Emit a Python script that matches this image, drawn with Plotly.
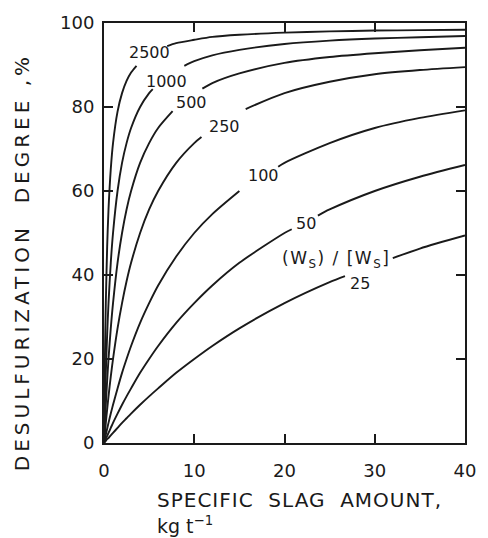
import numpy as np
import plotly.graph_objects as go

# slag amount, kg/t
x_vals = [0, 0.1, 0.2, 0.35, 0.5, 0.75, 1, 1.5, 2, 2.5, 3, 4, 5, 6, 8, 10, 12, 15, 20, 25, 30, 35, 40]

ratios = ["2500", "1000", "500", "250", "100", "50", "25"]

y_2500 = [0, 20.0, 33.3, 46.7, 55.6, 65.2, 71.4, 78.9, 83.3, 86.2, 88.2, 90.9, 92.6, 93.8, 95.2, 96.0, 96.7, 97.2, 97.7, 98.0, 98.2, 98.3, 98.4]
y_1000 = [0, 9.1, 16.7, 25.9, 33.3, 42.9, 50.0, 60.0, 66.7, 71.4, 75.0, 80.0, 83.3, 85.7, 88.9, 90.9, 92.3, 93.6, 95.0, 95.8, 96.3, 96.6, 96.9]
y_500 = [0, 4.8, 9.1, 14.9, 20.0, 27.3, 33.3, 42.9, 50.0, 55.6, 60.0, 66.7, 71.4, 75.0, 80.0, 83.3, 85.7, 88.0, 90.5, 91.9, 92.8, 93.5, 94.1]
y_250 = [0, 2.4, 4.8, 8.0, 11.1, 15.8, 20.0, 27.3, 33.3, 38.5, 42.9, 50.0, 55.6, 60.0, 66.7, 71.4, 75.0, 78.9, 83.3, 86.0, 87.8, 88.8, 89.5]
y_100 = [0, 1.0, 2.0, 3.4, 4.8, 7.0, 9.1, 13.0, 16.7, 20.0, 23.1, 28.6, 33.3, 37.5, 44.4, 50.0, 54.5, 60.0, 66.7, 71.4, 75.0, 77.4, 79.2]
y_50 = [0, 0.5, 1.0, 1.7, 2.4, 3.6, 4.8, 7.0, 9.1, 11.1, 13.0, 16.7, 20.0, 23.1, 28.6, 33.3, 37.5, 42.9, 50.0, 55.6, 60.0, 63.4, 66.2]
y_25 = [0, 0.25, 0.5, 0.9, 1.2, 1.8, 2.4, 3.6, 4.8, 5.9, 7.0, 9.1, 11.1, 13.0, 16.7, 20.0, 23.1, 27.3, 33.3, 38.3, 42.5, 46.3, 49.4]

series = [y_2500, y_1000, y_500, y_250, y_100, y_50, y_25]

# label placement (gap in each curve and label position, data coords)
gaps = [(3.6, 7.0), (5.4, 8.9), (7.6, 10.9), (10.8, 15.7), (15.0, 19.3), (20.8, 23.7), (26.7, 32.0)]
label_pos = [(5.05, 92.9), (6.9, 86.1), (9.7, 81.0), (13.3, 75.4), (17.7, 63.7), (22.4, 52.3), (28.4, 38.0)]
ratio_label = '<span style="letter-spacing:1.5px">(W<sub>S</sub>) / [W<sub>S</sub>]</span>'
ratio_label_pos = (25.7, 43.8)

x_title_1 = "SPECIFIC  SLAG  AMOUNT,"
x_title_2 = "kg t<sup>−1</sup>"
y_title = "DESULFURIZATION  DEGREE ,%"

FONT = "DejaVu Sans"
INK = "#1a1a1a"

fig = go.Figure()
xa = np.array(x_vals, dtype=float)
for ys, (g0, g1) in zip(series, gaps):
    ya = np.array(ys, dtype=float)
    m1 = xa < g0
    seg1x = np.append(xa[m1], g0)
    seg1y = np.append(ya[m1], np.interp(g0, xa, ya))
    m2 = xa > g1
    seg2x = np.insert(xa[m2], 0, g1)
    seg2y = np.insert(ya[m2], 0, np.interp(g1, xa, ya))
    for sx, sy in ((seg1x, seg1y), (seg2x, seg2y)):
        fig.add_trace(go.Scatter(x=sx, y=sy, mode="lines",
                                 line=dict(color=INK, width=1.9, shape="spline", smoothing=0.8),
                                 showlegend=False, hoverinfo="skip"))

for lab, (lx, ly) in zip(ratios, label_pos):
    fig.add_annotation(x=lx, y=ly, text=lab, showarrow=False,
                       font=dict(family=FONT, size=16, color=INK))
fig.add_annotation(x=ratio_label_pos[0], y=ratio_label_pos[1], text=ratio_label, showarrow=False,
                   font=dict(family=FONT, size=17, color=INK))

# axis titles
fig.add_annotation(xref="paper", yref="paper", x=0.14, y=-0.103, xanchor="left", yanchor="top",
                   showarrow=False,
                   text='<span style="letter-spacing:1px">' + x_title_1 + '</span>',
                   font=dict(family=FONT, size=20, color=INK))
fig.add_annotation(xref="paper", yref="paper", x=0.14, y=-0.163, xanchor="left", yanchor="top",
                   showarrow=False, text=x_title_2,
                   font=dict(family=FONT, size=19, color=INK))
fig.add_annotation(xref="paper", yref="paper", x=-0.225, y=0.43, textangle=-90,
                   xanchor="center", yanchor="middle", showarrow=False,
                   text='<span style="letter-spacing:4px">' + y_title + '</span>',
                   font=dict(family=FONT, size=20, color=INK))

axis_common = dict(showgrid=False, zeroline=False, showline=True, linecolor=INK, linewidth=2,
                   mirror="ticks", ticks="inside", ticklen=9, tickwidth=1.5, tickcolor=INK,
                   tickfont=dict(family=FONT, size=18, color=INK))
fig.update_xaxes(range=[0, 40], tickvals=[0, 10, 20, 30, 40], ticklabelstandoff=10, **axis_common)
fig.update_yaxes(range=[0, 100], tickvals=[0, 20, 40, 60, 80, 100], ticklabelstandoff=4, **axis_common)

fig.update_layout(width=488, height=538, margin=dict(l=104, r=20, t=23, b=95),
                  paper_bgcolor="white", plot_bgcolor="white")

fig.write_html("out.html")
